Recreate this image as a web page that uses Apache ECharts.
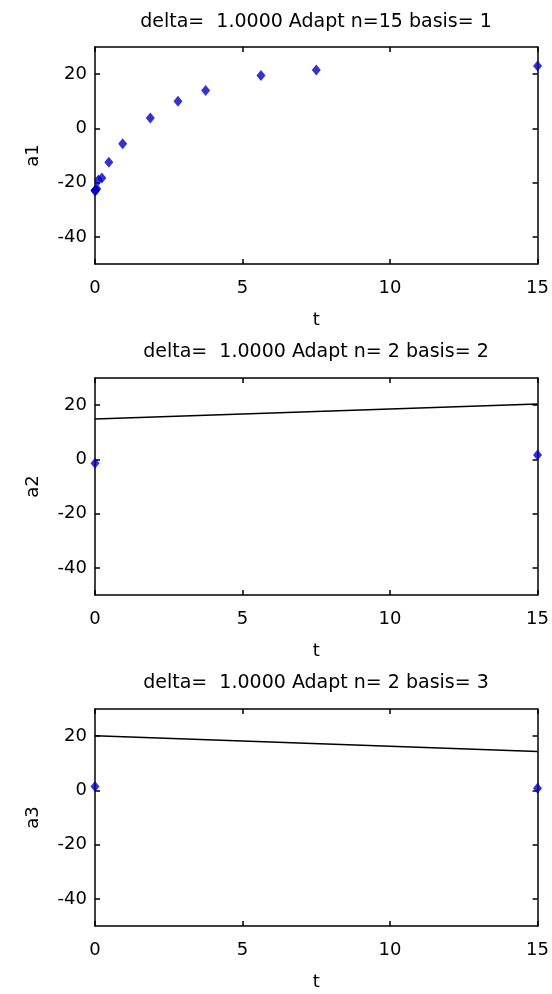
<!DOCTYPE html>
<html>
<head>
<meta charset="utf-8">
<script src="https://cdn.jsdelivr.net/npm/echarts@6/dist/echarts.min.js"></script>
<style>
  html, body { margin: 0; padding: 0; background: #fff; }
  #main { width: 552px; height: 994px; }
</style>
</head>
<body>
<div id="main"></div>
<script>
// panel 1: adaptive samples, basis 1
var t1 = [0, 0.0073, 0.0146, 0.0293, 0.0586, 0.117, 0.234, 0.469, 0.9375, 1.875, 2.8125, 3.75, 5.625, 7.5, 15];
var a1 = [-23, -22.9, -22.8, -22.6, -22.3, -19, -18.3, -12.5, -5.7, 3.8, 10, 14, 19.5, 21.5, 23];
// panel 2 / 3: two samples plus reference line
var t2 = [0, 15];
var a2 = [-1.4, 1.6];
var line2 = [14.9, 20.4];
var t3 = [0, 15];
var a3 = [1.4, 0.8];
var line3 = [20.1, 14.3];

var titles = ['delta=  1.0000 Adapt n=15 basis= 1',
              'delta=  1.0000 Adapt n= 2 basis= 2',
              'delta=  1.0000 Adapt n= 2 basis= 3'];
var yNames = ['a1', 'a2', 'a3'];
var yTicks = [-40, -20, 0, 20];

var font = 'DejaVu Sans, sans-serif';
var gridTops = [47, 378, 709];
var titleTops = [8, 338, 669];

var chart = echarts.init(document.getElementById('main'));

function zip(xs, ys) {
  return xs.map(function (x, i) { return [x, ys[i]]; });
}

var grids = [], xAxes = [], yAxes = [], series = [], title = [];
for (var i = 0; i < 3; i++) {
  grids.push({ left: 95, right: 11, top: gridTops[i], height: 217 });
  title.push({
    text: titles[i], left: 311, top: titleTops[i], textAlign: 'center',
    textStyle: { fontFamily: font, fontSize: 19, fontWeight: 'normal', color: '#000' }
  });
  var lineStyle = { color: '#000', width: 1.5 };
  xAxes.push({
    type: 'value', gridIndex: i, min: 0, max: 15, interval: 5,
    name: 't', nameLocation: 'middle', nameGap: 47,
    nameTextStyle: { fontFamily: font, fontSize: 18, color: '#000' },
    axisLine: { show: true, onZero: false, lineStyle: lineStyle },
    axisTick: { inside: true, length: 5, lineStyle: lineStyle },
    axisLabel: { fontFamily: font, fontSize: 18, color: '#000', margin: 15 },
    splitLine: { show: false }
  });
  xAxes.push({
    type: 'value', gridIndex: i, min: 0, max: 15, interval: 5, position: 'top',
    axisLine: { show: true, onZero: false, lineStyle: lineStyle },
    axisTick: { inside: true, length: 5, lineStyle: lineStyle },
    axisLabel: { show: false },
    splitLine: { show: false }
  });
  yAxes.push({
    type: 'value', gridIndex: i, min: -50, max: 30,
    name: yNames[i], nameLocation: 'middle', nameGap: 53, nameRotate: 90,
    nameTextStyle: { fontFamily: font, fontSize: 18, color: '#000' },
    axisLine: { show: true, onZero: false, lineStyle: lineStyle },
    axisTick: { inside: true, length: 5, lineStyle: lineStyle, customValues: yTicks },
    axisLabel: { fontFamily: font, fontSize: 18, color: '#000', margin: 8, customValues: yTicks },
    splitLine: { show: false }
  });
  yAxes.push({
    type: 'value', gridIndex: i, min: -50, max: 30, position: 'right',
    axisLine: { show: true, onZero: false, lineStyle: lineStyle },
    axisTick: { inside: true, length: 5, lineStyle: lineStyle, customValues: yTicks },
    axisLabel: { show: false },
    splitLine: { show: false }
  });
}

var pts = [zip(t1, a1), zip(t2, a2), zip(t3, a3)];
pts.forEach(function (d, i) {
  series.push({
    type: 'scatter', xAxisIndex: i * 2, yAxisIndex: i * 2, data: d,
    symbol: 'diamond', symbolSize: [9, 11], clip: false,
    itemStyle: { color: '#0000c0' }
  });
});
series.push({
  type: 'line', xAxisIndex: 2, yAxisIndex: 2, data: zip(t2, line2),
  symbol: 'none', lineStyle: { color: '#000', width: 1.5 }
});
series.push({
  type: 'line', xAxisIndex: 4, yAxisIndex: 4, data: zip(t3, line3),
  symbol: 'none', lineStyle: { color: '#000', width: 1.5 }
});

chart.setOption({
  animation: false,
  backgroundColor: '#fff',
  title: title,
  grid: grids,
  xAxis: xAxes,
  yAxis: yAxes,
  series: series
});
</script>
</body>
</html>
